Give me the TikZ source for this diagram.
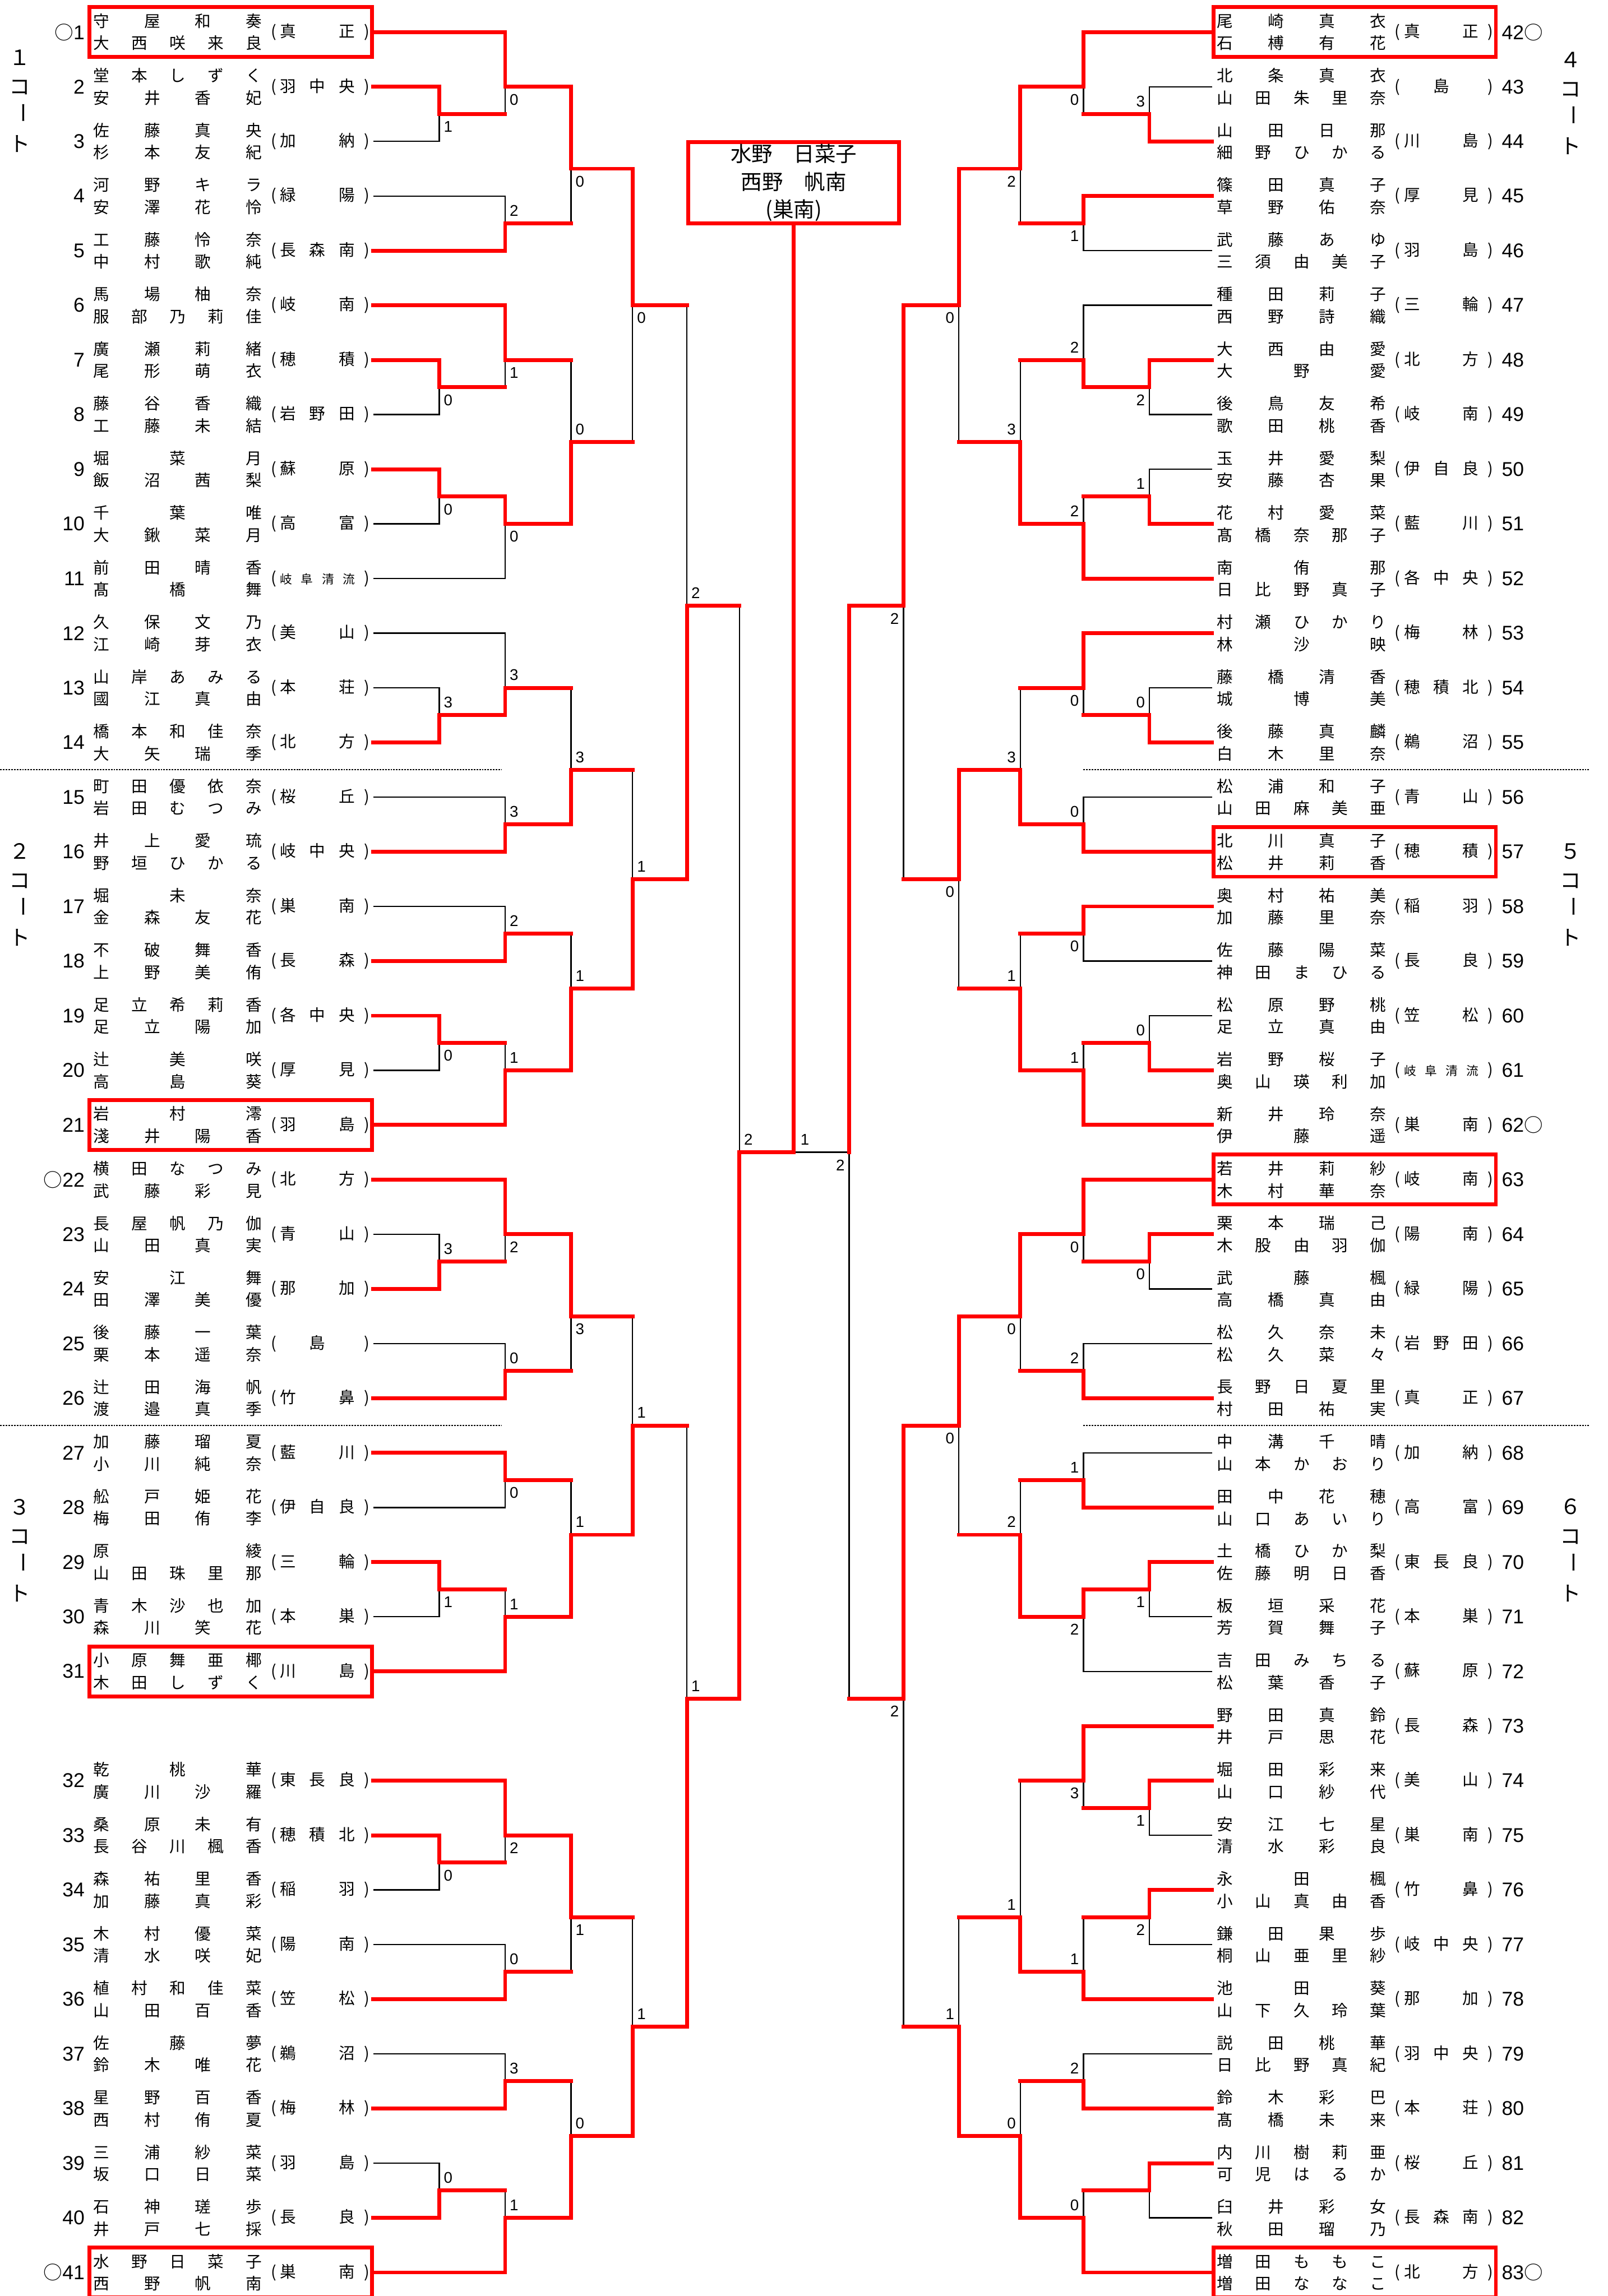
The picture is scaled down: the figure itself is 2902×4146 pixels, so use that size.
\documentclass[tikz,border=0pt]{standalone}
\usepackage{fontspec}
\setmainfont{Liberation Sans}
\newfontfamily\cjk{Noto Sans CJK JP}
\usetikzlibrary{calc}

\def\spreadA#1{\ifx\relax#1\else#1\expandafter\spreadB\fi}
\def\spreadB#1{\ifx\relax#1\else\hfill#1\expandafter\spreadB\fi}
\newcommand\spr[1]{\spreadA#1\relax}
\newcommand\sfour{\fontsize{22}{22}\selectfont}
\newcommand\maru{{\cjk\fontsize{34}{34}\selectfont ○}}
\newcommand\schoolbox[1]{\makebox[16pt]{(}\hspace{3.5pt}\makebox[135pt][s]{\spr{#1}}\hspace{13.5pt}\makebox[16pt]{)}}

\newcommand\entL[6]{%
  \coordinate (e#1) at (674,{yy(#2)});
  \node[numL] (n#1) at (153,{yy(#2)}) {#3};
  \node[names] (p#1) at (168,{yy(#2)}) {\makebox[305pt][s]{\spr{#4}}\\\makebox[305pt][s]{\spr{#5}}};
  \node[school] (s#1) at (486,{yy(#2)}) {\schoolbox{#6}};
}
\newcommand\entR[6]{%
  \coordinate (e#1) at (2188,{yy(#2)});
  \node[numR] (n#1) at (2711,{yy(#2)}) {#3};
  \node[names] (p#1) at (2197,{yy(#2)}) {\makebox[305pt][s]{\spr{#4}}\\\makebox[305pt][s]{\spr{#5}}};
  \node[school] (s#1) at (2515,{yy(#2)}) {\schoolbox{#6}};
}
\newcommand\court[4]{%
  \node[courtj] (#1a) at (#2,#3) {#4};
  \node[courtj] (#1b) at (#2,#3+54) {コ};
  \node[courtj,rotate=-90] (#1c) at (#2,#3+100) {ー};
  \node[courtj] (#1d) at (#2,#3+156) {ト};
}

% name, column x, top, bottom, winner(t/b), score, junction slot, loser kind (e=entry, m=match)
\def\leftmatches{%
\M{a1}{793}{e2}{e3}{t}{1}{1.5}{e}
\M{a2}{912}{e1}{a1}{t}{0}{1}{m}
\M{a3}{912}{e4}{e5}{b}{2}{3.5}{e}
\M{a4}{1031}{a2}{a3}{t}{0}{2.5}{m}
\M{a5}{793}{e7}{e8}{t}{0}{6.5}{e}
\M{a6}{912}{e6}{a5}{t}{1}{6}{m}
\M{a7}{793}{e9}{e10}{t}{0}{8.5}{e}
\M{a8}{912}{a7}{e11}{t}{0}{9}{e}
\M{a9}{1031}{a6}{a8}{b}{0}{7.5}{m}
\M{q1}{1142}{a4}{a9}{t}{0}{5}{m}
\M{a10}{793}{e13}{e14}{b}{3}{12.5}{e}
\M{a11}{912}{e12}{a10}{b}{3}{12}{e}
\M{a12}{912}{e15}{e16}{b}{3}{14.5}{e}
\M{a13}{1031}{a11}{a12}{b}{3}{13.5}{m}
\M{a14}{912}{e17}{e18}{b}{2}{16.5}{e}
\M{a15}{793}{e19}{e20}{t}{0}{18.5}{e}
\M{a16}{912}{a15}{e21}{b}{1}{19}{m}
\M{a17}{1031}{a14}{a16}{b}{1}{17.5}{m}
\M{a18}{1142}{a13}{a17}{b}{1}{15.5}{m}
\M{a19}{1240}{q1}{a18}{b}{2}{10.5}{m}
\M{b1}{793}{e23}{e24}{b}{3}{22.5}{e}
\M{b2}{912}{e22}{b1}{t}{2}{22}{m}
\M{b3}{912}{e25}{e26}{b}{0}{24.5}{e}
\M{b4}{1031}{b2}{b3}{t}{3}{23.5}{m}
\M{b5}{912}{e27}{e28}{t}{0}{26.5}{e}
\M{b6}{793}{e29}{e30}{t}{1}{28.5}{e}
\M{b7}{912}{b6}{e31}{b}{1}{29}{m}
\M{b8}{1031}{b5}{b7}{b}{1}{27.5}{m}
\M{b9}{1142}{b4}{b8}{b}{1}{25.5}{m}
\M{b10}{793}{e33}{e34}{t}{0}{33.5}{e}
\M{b11}{912}{e32}{b10}{t}{2}{33}{m}
\M{b12}{912}{e35}{e36}{b}{0}{35.5}{e}
\M{b13}{1031}{b11}{b12}{t}{1}{34.5}{m}
\M{b14}{912}{e37}{e38}{b}{3}{37.5}{e}
\M{b15}{793}{e39}{e40}{b}{0}{39.5}{e}
\M{b16}{912}{b15}{e41}{b}{1}{40}{m}
\M{b17}{1031}{b14}{b16}{b}{0}{38.5}{m}
\M{b18}{1142}{b13}{b17}{b}{1}{36.5}{m}
\M{b19}{1240}{b9}{b18}{b}{1}{30.5}{m}
\M{Lf}{1335}{a19}{b19}{b}{2}{20.5}{m}
}
\def\rightmatches{%
\M{r1}{2075}{e43}{e44}{b}{3}{1.5}{e}
\M{r2}{1956}{e42}{r1}{t}{0}{1}{m}
\M{r3}{1956}{e45}{e46}{t}{1}{3.5}{e}
\M{r4}{1842}{r2}{r3}{t}{2}{2.5}{m}
\M{r5}{2075}{e48}{e49}{t}{2}{6.5}{e}
\M{r6}{1956}{e47}{r5}{b}{2}{6}{e}
\M{r7}{2075}{e50}{e51}{b}{1}{8.5}{e}
\M{r8}{1956}{r7}{e52}{b}{2}{9}{m}
\M{r9}{1842}{r6}{r8}{b}{3}{7.5}{m}
\M{r10}{1731}{r4}{r9}{t}{0}{5}{m}
\M{r11}{2075}{e54}{e55}{b}{0}{12.5}{e}
\M{r12}{1956}{e53}{r11}{t}{0}{12}{m}
\M{r13}{1956}{e56}{e57}{b}{0}{14.5}{e}
\M{r14}{1842}{r12}{r13}{b}{3}{13.5}{m}
\M{r15}{1956}{e58}{e59}{t}{0}{16.5}{e}
\M{r16}{2075}{e60}{e61}{b}{0}{18.5}{e}
\M{r17}{1956}{r16}{e62}{b}{1}{19}{m}
\M{r18}{1842}{r15}{r17}{b}{1}{17.5}{m}
\M{r19}{1731}{r14}{r18}{t}{0}{15.5}{m}
\M{r20}{1631}{r10}{r19}{t}{2}{10.5}{m}
\M{r21}{2075}{e64}{e65}{t}{0}{22.5}{e}
\M{r22}{1956}{e63}{r21}{t}{0}{22}{m}
\M{r23}{1956}{e66}{e67}{b}{2}{24.5}{e}
\M{r24}{1842}{r22}{r23}{t}{0}{23.5}{m}
\M{r25}{1956}{e68}{e69}{b}{1}{26.5}{e}
\M{r26}{2075}{e70}{e71}{t}{1}{28.5}{e}
\M{r27}{1956}{r26}{e72}{t}{2}{29}{e}
\M{r28}{1842}{r25}{r27}{b}{2}{27.5}{m}
\M{r29}{1731}{r24}{r28}{t}{0}{25.5}{m}
\M{r30}{2075}{e74}{e75}{t}{1}{32.5}{e}
\M{r31}{1956}{e73}{r30}{t}{3}{32}{m}
\M{r32}{2075}{e76}{e77}{t}{2}{34.5}{e}
\M{r33}{1956}{r32}{e78}{b}{1}{35.5}{m}
\M{r34}{1842}{r31}{r33}{b}{1}{34.5}{m}
\M{r35}{1956}{e79}{e80}{b}{2}{37.5}{e}
\M{r36}{2075}{e81}{e82}{t}{}{39.5}{e}
\M{r37}{1956}{r36}{e83}{b}{0}{40}{m}
\M{r38}{1842}{r35}{r37}{b}{0}{38.5}{m}
\M{r39}{1731}{r34}{r38}{b}{1}{36.5}{m}
\M{r40}{1631}{r29}{r39}{t}{2}{30.5}{m}
\M{Rf}{1533}{r20}{r40}{t}{2}{20.5}{m}
}

\begin{document}
\begin{tikzpicture}[x=1pt,y=-1pt,
  declare function={yy(\k)=58+98.67*\k;},
  names/.style={anchor=west,inner sep=0pt,align=left,font=\cjk\fontsize{29}{40}\selectfont},
  school/.style={anchor=west,inner sep=0pt,font=\cjk\fontsize{29}{29}\selectfont},
  numL/.style={anchor=east,inner sep=0pt,font=\fontsize{36}{36}\selectfont},
  numR/.style={anchor=west,inner sep=0pt,font=\fontsize{36}{36}\selectfont},
  rbox/.style={draw=red,line width=7pt,minimum width=510pt,minimum height=90pt,inner sep=0pt},
  win/.style={draw=red,line width=7pt,line cap=rect},
  lose/.style={draw=black,line width=2.5pt},
  sep/.style={draw=black,line width=2pt,dash pattern=on 3pt off 2pt},
  courtj/.style={inner sep=0pt,font=\cjk\fontsize{38}{38}\selectfont},
  labL/.style={anchor=west,inner sep=0pt,font=\fontsize{28}{28}\selectfont},
  labR/.style={anchor=east,inner sep=0pt,font=\fontsize{28}{28}\selectfont}]
\fill[white] (0,0) rectangle (2902,4146);
\useasboundingbox (0,0) rectangle (2902,4146);

% separators
\draw[sep] (0,{yy(13.5)}) -- (906,{yy(13.5)});
\draw[sep] (0,{yy(25.5)}) -- (906,{yy(25.5)});
\draw[sep] (1956,{yy(13.5)}) -- (2870,{yy(13.5)});
\draw[sep] (1956,{yy(25.5)}) -- (2870,{yy(25.5)});

% courts
\court{k1}{36}{104}{１}
\court{k2}{36}{1537}{２}
\court{k3}{36}{2721}{３}
\court{k4}{2835}{108}{４}
\court{k5}{2835}{1537}{５}
\court{k6}{2835}{2721}{６}

% entries left
\entL{1}{0}{\maru 1}{守屋和奏}{大西咲来良}{真正}
\entL{2}{1}{2}{堂本しずく}{安井香妃}{羽中央}
\entL{3}{2}{3}{佐藤真央}{杉本友紀}{加納}
\entL{4}{3}{4}{河野キラ}{安澤花怜}{緑陽}
\entL{5}{4}{5}{工藤怜奈}{中村歌純}{長森南}
\entL{6}{5}{6}{馬場柚奈}{服部乃莉佳}{岐南}
\entL{7}{6}{7}{廣瀬莉緒}{尾形萌衣}{穂積}
\entL{8}{7}{8}{藤谷香織}{工藤未結}{岩野田}
\entL{9}{8}{9}{堀菜月}{飯沼茜梨}{蘇原}
\entL{10}{9}{10}{千葉唯}{大鍬菜月}{高富}
\entL{11}{10}{11}{前田晴香}{髙橋舞}{{\sfour 岐}阜清流}
\entL{12}{11}{12}{久保文乃}{江崎芽衣}{美山}
\entL{13}{12}{13}{山岸あみる}{國江真由}{本荘}
\entL{14}{13}{14}{橋本和佳奈}{大矢瑞季}{北方}
\entL{15}{14}{15}{町田優依奈}{岩田むつみ}{桜丘}
\entL{16}{15}{16}{井上愛琉}{野垣ひかる}{岐中央}
\entL{17}{16}{17}{堀未奈}{金森友花}{巣南}
\entL{18}{17}{18}{不破舞香}{上野美侑}{長森}
\entL{19}{18}{19}{足立希莉香}{足立陽加}{各中央}
\entL{20}{19}{20}{辻美咲}{高島葵}{厚見}
\entL{21}{20}{21}{岩村澪}{淺井陽香}{羽島}
\entL{22}{21}{\maru 22}{横田なつみ}{武藤彩見}{北方}
\entL{23}{22}{23}{長屋帆乃伽}{山田真実}{青山}
\entL{24}{23}{24}{安江舞}{田澤美優}{那加}
\entL{25}{24}{25}{後藤一葉}{栗本遥奈}{{\hfil 島\hfil}}
\entL{26}{25}{26}{辻田海帆}{渡邉真季}{竹鼻}
\entL{27}{26}{27}{加藤瑠夏}{小川純奈}{藍川}
\entL{28}{27}{28}{舩戸姫花}{梅田侑李}{伊自良}
\entL{29}{28}{29}{原綾}{山田珠里那}{三輪}
\entL{30}{29}{30}{青木沙也加}{森川笑花}{本巣}
\entL{31}{30}{31}{小原舞亜椰}{木田しずく}{川島}
\entL{32}{32}{32}{乾桃華}{廣川沙羅}{東長良}
\entL{33}{33}{33}{桑原未有}{長谷川楓香}{穂積北}
\entL{34}{34}{34}{森祐里香}{加藤真彩}{稲羽}
\entL{35}{35}{35}{木村優菜}{清水咲妃}{陽南}
\entL{36}{36}{36}{植村和佳菜}{山田百香}{笠松}
\entL{37}{37}{37}{佐藤夢}{鈴木唯花}{鵜沼}
\entL{38}{38}{38}{星野百香}{西村侑夏}{梅林}
\entL{39}{39}{39}{三浦紗菜}{坂口日菜}{羽島}
\entL{40}{40}{40}{石神瑳歩}{井戸七採}{長良}
\entL{41}{41}{\maru 41}{水野日菜子}{西野帆南}{巣南}

% entries right
\entR{42}{0}{42\maru}{尾崎真衣}{石榑有花}{真正}
\entR{43}{1}{43}{北条真衣}{山田朱里奈}{{\hfil 島\hfil}}
\entR{44}{2}{44}{山田日那}{細野ひかる}{川島}
\entR{45}{3}{45}{篠田真子}{草野佑奈}{厚見}
\entR{46}{4}{46}{武藤あゆ}{三須由美子}{羽島}
\entR{47}{5}{47}{種田莉子}{西野詩織}{三輪}
\entR{48}{6}{48}{大西由愛}{大野愛}{北方}
\entR{49}{7}{49}{後鳥友希}{歌田桃香}{岐南}
\entR{50}{8}{50}{玉井愛梨}{安藤杏果}{伊自良}
\entR{51}{9}{51}{花村愛菜}{髙橋奈那子}{藍川}
\entR{52}{10}{52}{南侑那}{日比野真子}{各中央}
\entR{53}{11}{53}{村瀬ひかり}{林沙映}{梅林}
\entR{54}{12}{54}{藤橋清香}{城博美}{穂積北}
\entR{55}{13}{55}{後藤真麟}{白木里奈}{鵜沼}
\entR{56}{14}{56}{松浦和子}{山田麻美亜}{青山}
\entR{57}{15}{57}{北川真子}{松井莉香}{穂積}
\entR{58}{16}{58}{奥村祐美}{加藤里奈}{稲羽}
\entR{59}{17}{59}{佐藤陽菜}{神田まひる}{長良}
\entR{60}{18}{60}{松原野桃}{足立真由}{笠松}
\entR{61}{19}{61}{岩野桜子}{奥山瑛利加}{{\sfour 岐}阜清流}
\entR{62}{20}{62\maru}{新井玲奈}{伊藤遥}{巣南}
\entR{63}{21}{63}{若井莉紗}{木村華奈}{岐南}
\entR{64}{22}{64}{栗本瑞己}{木股由羽伽}{陽南}
\entR{65}{23}{65}{武藤楓}{高橋真由}{緑陽}
\entR{66}{24}{66}{松久奈未}{松久菜々}{岩野田}
\entR{67}{25}{67}{長野日夏里}{村田祐実}{真正}
\entR{68}{26}{68}{中溝千晴}{山本かおり}{加納}
\entR{69}{27}{69}{田中花穂}{山口あいり}{高富}
\entR{70}{28}{70}{土橋ひか梨}{佐藤明日香}{東長良}
\entR{71}{29}{71}{板垣采花}{芳賀舞子}{本巣}
\entR{72}{30}{72}{吉田みちる}{松葉香子}{蘇原}
\entR{73}{31}{73}{野田真鈴}{井戸思花}{長森}
\entR{74}{32}{74}{堀田彩来}{山口紗代}{美山}
\entR{75}{33}{75}{安江七星}{清水彩良}{巣南}
\entR{76}{34}{76}{永田楓}{小山真由香}{竹鼻}
\entR{77}{35}{77}{鎌田果歩}{桐山亜里紗}{岐中央}
\entR{78}{36}{78}{池田葵}{山下久玲葉}{那加}
\entR{79}{37}{79}{説田桃華}{日比野真紀}{羽中央}
\entR{80}{38}{80}{鈴木彩巴}{髙橋未来}{本荘}
\entR{81}{39}{81}{内川樹莉亜}{可児はるか}{桜丘}
\entR{82}{40}{82}{臼井彩女}{秋田瑠乃}{長森南}
\entR{83}{41}{83\maru}{増田ももこ}{増田ななこ}{北方}

% red boxes
\node[rbox] (bx1) at (416.5,{yy(0)}) {};
\node[rbox] (bx21) at (416.5,{yy(20)}) {};
\node[rbox] (bx31) at (416.5,{yy(30)}) {};
\node[rbox] (bx41) at (416.5,{yy(41)}) {};
\node[rbox] (bx42) at (2445.5,{yy(0)}) {};
\node[rbox] (bx57) at (2445.5,{yy(15)}) {};
\node[rbox] (bx63) at (2445.5,{yy(21)}) {};
\node[rbox] (bx83) at (2445.5,{yy(41)}) {};

% champion box
\node[draw=red,line width=7pt,minimum width=381pt,minimum height=141pt,align=center,
      font=\cjk\fontsize{38}{50}\selectfont] (champ) at (1433,330) {水野　日菜子\\西野　帆南\\(巣南)};

% pass 1: junction coordinates
\def\M#1#2#3#4#5#6#7#8{\coordinate (#1) at (#2,{yy(#7)});}
\leftmatches\rightmatches
\coordinate (G) at (1433,{yy(20.5)});
% pass 2: black parts
\def\M#1#2#3#4#5#6#7#8{%
 \if t#5%
   \if e#8\draw[lose] (#4) -| (#1);\else\draw[lose] (#4 -| #1) -- (#1);\fi
 \else
   \if e#8\draw[lose] (#3) -| (#1);\else\draw[lose] (#3 -| #1) -- (#1);\fi
 \fi}
\leftmatches\rightmatches
\draw[lose] (Rf) -- (G);
% pass 3: red parts
\def\M#1#2#3#4#5#6#7#8{%
 \if t#5%
   \draw[win] (#3) -| (#1);
   \if m#8\draw[win] (#4) -- (#4 -| #1);\fi
 \else
   \draw[win] (#4) -| (#1);
   \if m#8\draw[win] (#3) -- (#3 -| #1);\fi
 \fi}
\leftmatches\rightmatches
\draw[win] (Lf) -- (G);
\draw[win] (champ.south) -- (G);
% scores
\def\M#1#2#3#4#5#6#7#8{\if t#5\node[labL] (l#1) at ($(#1)+(8,23)$) {#6};\else\node[labL] (l#1) at ($(#1)+(8,-23)$) {#6};\fi}
\leftmatches
\def\M#1#2#3#4#5#6#7#8{\if t#5\node[labR] (l#1) at ($(#1)+(-8,23)$) {#6};\else\node[labR] (l#1) at ($(#1)+(-8,-23)$) {#6};\fi}
\rightmatches
\node[labL] (lG) at ($(G)+(12,-23)$) {1};
\end{tikzpicture}
\end{document}
